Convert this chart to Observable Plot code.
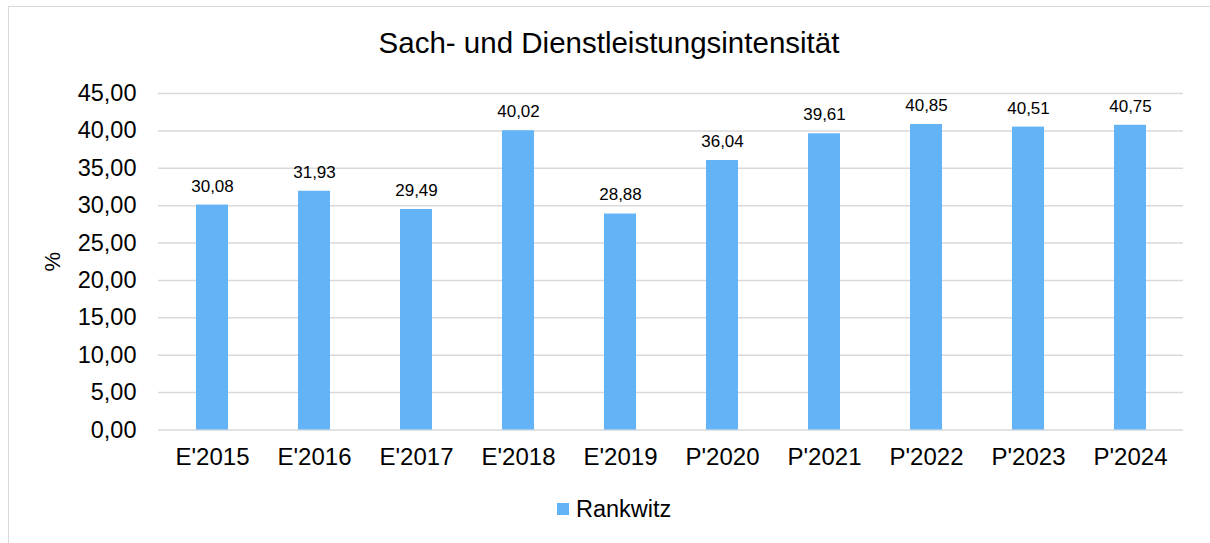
<!DOCTYPE html>
<html>
<head>
<meta charset="utf-8">
<script src="https://cdn.jsdelivr.net/npm/d3@7"></script>
<script src="https://cdn.jsdelivr.net/npm/@observablehq/plot@0.6"></script>
<style>
  html, body { margin: 0; padding: 0; background: #fff; }
  body { width: 1210px; height: 543px; position: relative; overflow: hidden; font-family: "Liberation Sans", Arial, sans-serif; }
  #frame { position: absolute; left: 8px; top: 6px; width: 1220px; height: 560px; border: 1.5px solid #d9d9d9; box-sizing: border-box; }
  #chart { position: absolute; left: 0; top: 0; }
  #title { position: absolute; left: 0; width: 1218px; top: 26px; text-align: center; font-size: 29.5px; line-height: 34px; color: #000; }
  #legend { position: absolute; left: 557px; top: 495px; font-size: 23.5px; line-height: 28px; color: #000; display: flex; align-items: center; }
  #legend .sw { width: 12px; height: 12px; background: #63b4f6; margin-right: 7px; }
</style>
</head>
<body>
<div id="frame"></div>
<div id="chart"></div>
<div id="title">Sach- und Dienstleistungsintensität</div>
<div id="legend"><span class="sw"></span><span>Rankwitz</span></div>
<script>
const categories = ["E'2015", "E'2016", "E'2017", "E'2018", "E'2019", "P'2020", "P'2021", "P'2022", "P'2023", "P'2024"];
const values = [30.08, 31.93, 29.49, 40.02, 28.88, 36.04, 39.61, 40.85, 40.51, 40.75];
const yTicks = [0, 5, 10, 15, 20, 25, 30, 35, 40, 45];
const seriesName = "Rankwitz";

const data = categories.map((c, i) => ({category: c, value: values[i], series: seriesName}));
const fmt = v => v.toFixed(2).replace(".", ",");

const chart = Plot.plot({
  width: 1210,
  height: 543,
  marginLeft: 158,
  marginRight: 27,
  marginTop: 93,
  marginBottom: 113.5,
  style: {fontFamily: "'Liberation Sans', Arial, sans-serif", background: "transparent", color: "#000"},
  x: {domain: categories, paddingInner: 0.69, paddingOuter: 0.345, label: null},
  y: {domain: [0, 45], label: null},
  marks: [
    Plot.ruleY(yTicks, {stroke: "#d9d9d9", strokeWidth: 1.5}),
    Plot.barY(data, {x: "category", y: "value", fill: "#63b4f6"}),
    Plot.text(data, {x: "category", y: "value", text: d => fmt(d.value), dy: -19, fontSize: 17, fill: "#000"}),
    Plot.axisY({ticks: yTicks, tickFormat: fmt, tickSize: 0, tickPadding: 22, fontSize: 23.5, label: null}),
    Plot.text(["%"], {frameAnchor: "left", textAnchor: "middle", dx: -106, rotate: -90, fontSize: 22, fill: "#000"}),
    Plot.axisX({tickSize: 0, tickPadding: 18, fontSize: 24, label: null})
  ]
});
document.getElementById("chart").appendChild(chart);
</script>
</body>
</html>
